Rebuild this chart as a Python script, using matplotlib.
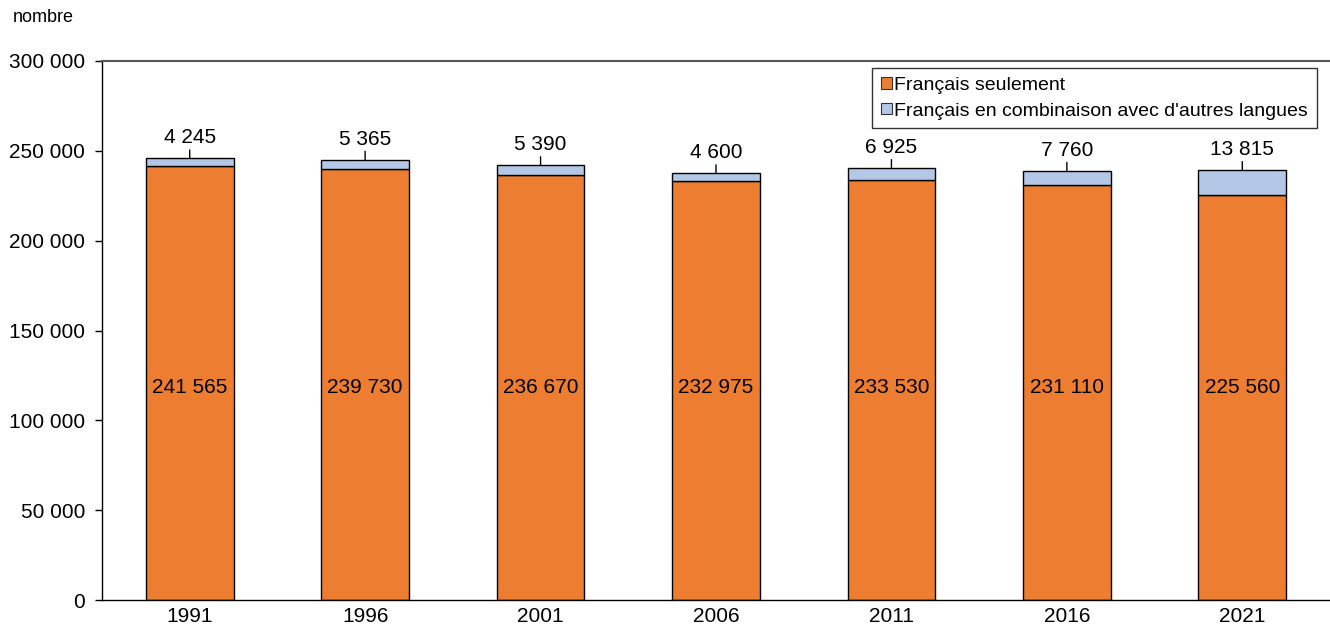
import matplotlib
matplotlib.use("Agg")
import matplotlib.pyplot as plt
from matplotlib.patches import Patch

plt.rcParams['font.family'] = ['Liberation Sans', 'DejaVu Sans']

years = ['1991', '1996', '2001', '2006', '2011', '2016', '2021']
francais_seul = [241565, 239730, 236670, 232975, 233530, 231110, 225560]
francais_comb = [4245, 5365, 5390, 4600, 6925, 7760, 13815]
yticks = [0, 50000, 100000, 150000, 200000, 250000, 300000]

def fmt(v):
    return f"{v:,}".replace(",", " ")

ORANGE = '#ED7D31'
BLUE = '#B4C7E7'
FS = 15
INNER_Y = 118000

fig = plt.figure(figsize=(13.3, 6.25), dpi=100)
ax = fig.add_axes([102/1330, 25/625, 1228/1330, 539/625])

x = list(range(len(years)))
ax.bar(x, francais_seul, width=0.5, color=ORANGE, edgecolor='black', linewidth=1)
ax.bar(x, francais_comb, width=0.5, bottom=francais_seul, color=BLUE, edgecolor='black', linewidth=1)

for i in x:
    ax.text(i, INNER_Y, fmt(francais_seul[i]), ha='center', va='center', fontsize=FS)
    top = francais_seul[i] + francais_comb[i]
    ax.annotate(fmt(francais_comb[i]), xy=(i, top), xytext=(0, 8), textcoords='offset points',
                ha='center', va='bottom', fontsize=FS,
                arrowprops=dict(arrowstyle='-', color='black', lw=1, shrinkA=0, shrinkB=0))

ax.set_xlim(-0.5, len(years) - 0.5)
ax.set_ylim(0, 300000)
ax.set_yticks(yticks)
ax.set_yticklabels([fmt(v) for v in yticks], fontsize=FS)
ax.set_xticks(x)
ax.set_xticklabels(years, fontsize=FS)
ax.tick_params(axis='x', length=0, pad=5)
ax.tick_params(axis='y', length=5, width=1, pad=7)

ax.spines['right'].set_visible(False)
ax.spines['top'].set_color('#555555')
ax.spines['top'].set_linewidth(1.5)
ax.spines['left'].set_linewidth(1)
ax.spines['bottom'].set_linewidth(1)

handles = [Patch(facecolor=ORANGE, edgecolor='#333333', linewidth=0.8),
           Patch(facecolor=BLUE, edgecolor='#333333', linewidth=0.8)]
leg = ax.legend(handles, ['Français seulement', "Français en combinaison avec d'autres langues"],
                loc='upper right', bbox_to_anchor=(1215/1228, 1 - 7/539),
                fontsize=14, frameon=True, fancybox=False, edgecolor='black',
                handlelength=0.55, handleheight=0.55, handletextpad=0.15, borderpad=0.45,
                labelspacing=0.45, borderaxespad=0)
leg.get_frame().set_linewidth(1)

fig.text(13/1330, 1 - 18/625, 'nombre', fontsize=13, va='center', ha='left')

fig.savefig('out.png', dpi=100)
